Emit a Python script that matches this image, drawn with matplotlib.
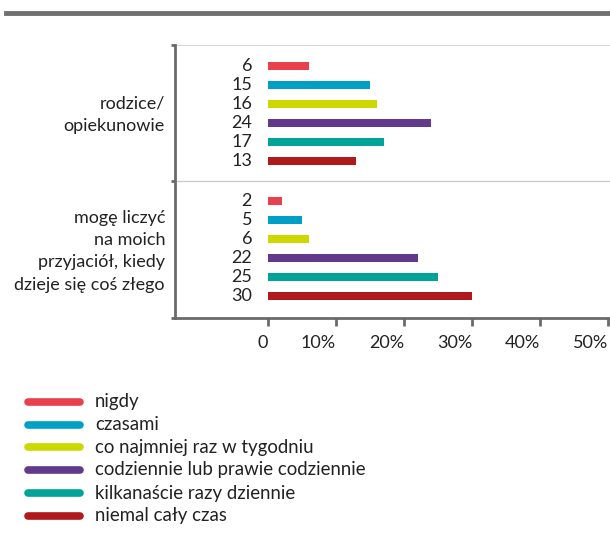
import matplotlib
matplotlib.use("Agg")
import matplotlib.pyplot as plt
from matplotlib.lines import Line2D

plt.rcParams['font.family'] = ['Lato', 'DejaVu Sans']

categories = ["rodzice/\nopiekunowie", "mogę liczyć\nna moich\nprzyjaciół, kiedy\ndzieje się coś złego"]
series = ["nigdy", "czasami", "co najmniej raz w tygodniu",
          "codziennie lub prawie codziennie", "kilkanaście razy dziennie",
          "niemal cały czas"]
values = {
    "rodzice/\nopiekunowie": [6, 15, 16, 24, 17, 13],
    "mogę liczyć\nna moich\nprzyjaciół, kiedy\ndzieje się coś złego": [2, 5, 6, 22, 25, 30],
}
colors = ["#E8404C", "#00A0C6", "#CDD700", "#623A8C", "#00A398", "#B11A1C"]
xticks = [0, 10, 20, 30, 40, 50]
xticklabels = ["0", "10%", "20%", "30%", "40%", "50%"]

W, H = 610, 543
fig = plt.figure(figsize=(W / 100, H / 100), dpi=100)

# axes placement in pixels
ax_l, ax_r, ax_t, ax_b = 175, 610, 45, 318
ax = fig.add_axes([ax_l / W, 1 - ax_b / H, (ax_r - ax_l) / W, (ax_b - ax_t) / H])

px_per_pct = 6.8
x0_px = 268
ax.set_xlim((ax_l - x0_px) / px_per_pct, (ax_r - x0_px) / px_per_pct)

unit = 19.0
first_px = 66
ax.set_ylim((ax_b - first_px) / unit, (ax_t - first_px) / unit)

group_step = 7.1
bar_h = 8 / unit
fs = 13.0
txt_col = "#222222"
for g, cat in enumerate(categories):
    base = g * group_step
    for i, v in enumerate(values[cat]):
        y = base + i
        ax.barh(y, v, height=bar_h, color=colors[i], left=0)
        ax.text(-2.35, y, str(v), ha="right", va="center", fontsize=fs, color=txt_col)
    ax.text((165 - x0_px) / px_per_pct, base + 2.55 + 0.1 * g, cat,
            ha="right", va="center", fontsize=fs, color=txt_col,
            linespacing=1.5, clip_on=False)

# separator line between groups
sep = (5 + group_step) / 2.0
ax.axhline(sep, color="#cccccc", lw=1)
ax.axhline(ax.get_ylim()[1], color="#cccccc", lw=1.2)

for s in ["top", "right"]:
    ax.spines[s].set_visible(False)
ax.spines["left"].set_color("#6a6a6a")
ax.spines["left"].set_linewidth(2)
ax.spines["bottom"].set_color("#6a6a6a")
ax.spines["bottom"].set_linewidth(2)

ax.set_xticks(xticks)
ax.set_xticklabels(xticklabels, fontsize=fs, color=txt_col, ha="right")
ax.tick_params(axis="x", length=6, width=2, color="#6a6a6a", pad=6)
ax.set_yticks([ax.get_ylim()[1], sep, ax.get_ylim()[0]])
ax.set_yticklabels([])
ax.tick_params(axis="y", length=3, width=2, color="#6a6a6a")

# top grey rule
fig.add_artist(Line2D([6 / W, 1], [1 - 13 / H, 1 - 13 / H], color="#707070", lw=3.5,
                      transform=fig.transFigure))

# legend
leg_y = [402, 425, 447, 470, 493, 516]
for i, name in enumerate(series):
    yy = 1 - leg_y[i] / H
    fig.add_artist(Line2D([28 / W, 80 / W], [yy, yy], color=colors[i], lw=5.5,
                          solid_capstyle="round", transform=fig.transFigure))
    fig.text(95 / W, yy, name, ha="left", va="center", fontsize=13.4, color=txt_col)

fig.savefig("out.png", dpi=100)
